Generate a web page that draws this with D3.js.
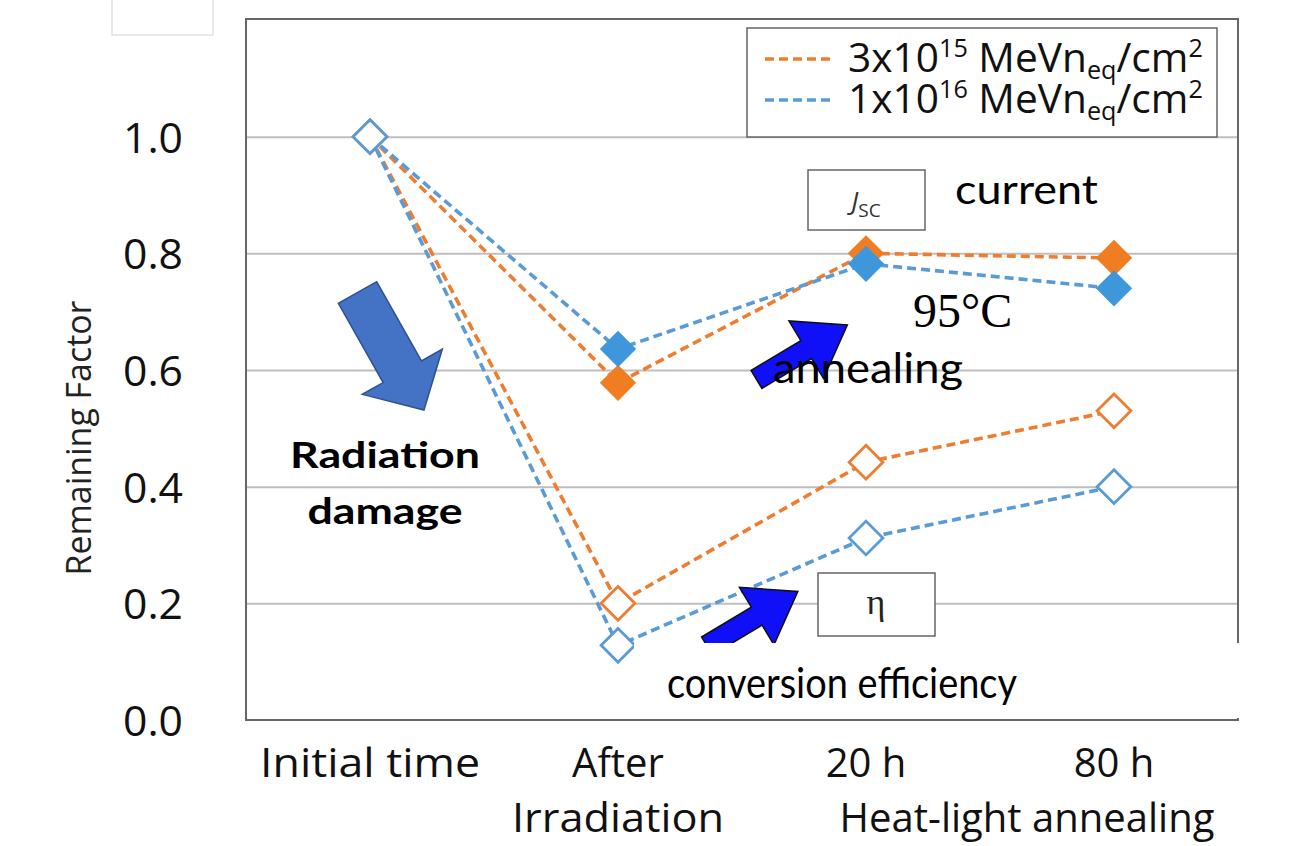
<!DOCTYPE html>
<html>
<head>
<meta charset="utf-8">
<script src="https://cdn.jsdelivr.net/npm/d3@7"></script>
<style>
  body { margin: 0; background: #fff; }
  svg { display: block; font-family: "Open Sans", sans-serif; }
</style>
</head>
<body>
<div id="chart"></div>
<script>
// categories on the x axis
const stages = ["Initial time", "After Irradiation", "20 h", "80 h"];
const stageTop = ["Initial time", "After", "20 h", "80 h"];

// remaining factor
const jscLow = [1.0, 0.578, 0.800, 0.792];   // 3x10^15, filled
const jscHigh = [1.0, 0.636, 0.782, 0.740];  // 1x10^16, filled
const effLow = [1.0, 0.200, 0.442, 0.530];   // 3x10^15, open
const effHigh = [1.0, 0.128, 0.312, 0.400];  // 1x10^16, open

const yTicks = [0, 0.2, 0.4, 0.6, 0.8, 1.0];
const fluences = ["15", "16"];
const fluencePrefix = ["3x10", "1x10"];

const orange = "#ED7D31", blue = "#5B9BD5";
const orangeFill = "#F07D22", blueFill = "#3E97DA";
const calibri = "Lato, sans-serif";

const svg = d3.select("#chart")
    .append("svg")
    .attr("width", 1291)
    .attr("height", 846);

const x = d3.scaleBand()
    .domain(stages)
    .range([246, 1238]);

const y = d3.scaleLinear()
    .domain([0, 1.2])
    .range([720, 20]);

const cx = d => x(d) + x.bandwidth() / 2;

// font size that makes a text as wide as in the picture
function fit(sel, w) {
    const len = sel.node().getComputedTextLength();
    const fs = parseFloat(sel.attr("font-size"));
    return fs * w / len;
}

// faint box top-left
svg.append("path")
    .attr("d", "M112,0 V35 H213 V0")
    .attr("fill", "none")
    .attr("stroke", "#e2e2e2")
    .attr("stroke-width", 1.5);

// gridlines
svg.append("g")
    .attr("transform", "translate(246,0)")
    .call(d3.axisLeft(y).tickValues(yTicks.slice(1)).tickSize(-992).tickFormat(""))
    .call(g => g.select(".domain").remove())
    .call(g => g.selectAll("line").attr("stroke", "#bfbfbf").attr("stroke-width", 2));

// y tick labels
const yAx = svg.append("g")
    .attr("transform", "translate(186,0)")
    .call(d3.axisLeft(y).tickValues(yTicks).tickSize(0).tickFormat(d3.format(".1f")))
    .call(g => g.select(".domain").remove());
yAx.selectAll("text")
    .attr("font-family", "Open Sans, sans-serif")
    .attr("font-size", 30)
    .attr("fill", "#111")
    .attr("dy", "0.36em");
const yfs = fit(yAx.select("text"), 60);
yAx.selectAll("text").attr("font-size", yfs);

// y title
const yTitle = svg.append("text")
    .attr("transform", "translate(91,438) rotate(-90)")
    .attr("text-anchor", "middle")
    .attr("font-size", 29)
    .attr("fill", "#222")
    .text("Remaining Factor");
yTitle.attr("font-size", fit(yTitle, 275));

// plot frame
svg.append("rect")
    .attr("x", 246).attr("y", 19)
    .attr("width", 992).attr("height", 701)
    .attr("fill", "none")
    .attr("stroke", "#666")
    .attr("stroke-width", 2);

function arrowPath(tx, ty, angle, shaftLen, shaftW, headW, headLen) {
    const a = angle * Math.PI / 180;
    const dx = Math.cos(a), dy = Math.sin(a);
    const px = -dy, py = dx;
    const pt = (s, t) => [tx + dx * s + px * t, ty + dy * s + py * t];
    return d3.line()([
        pt(0, -shaftW / 2), pt(shaftLen, -shaftW / 2), pt(shaftLen, -headW / 2),
        pt(shaftLen + headLen, 0),
        pt(shaftLen, headW / 2), pt(shaftLen, shaftW / 2), pt(0, shaftW / 2)
    ]) + "Z";
}

// Radiation damage arrow
svg.append("path")
    .attr("d", arrowPath(357.5, 292.5, 60.5, 91, 44, 92, 44))
    .attr("fill", "#4472C4")
    .attr("stroke", "#2F528F")
    .attr("stroke-width", 1.5);

// series
const series = [
    {values: jscLow, color: orange, fill: orangeFill, open: false},
    {values: jscHigh, color: blue, fill: blueFill, open: false},
    {values: effLow, color: orange, fill: orangeFill, open: true},
    {values: effHigh, color: blue, fill: blueFill, open: true}
];

const line = d3.line()
    .x((d, i) => cx(stages[i]))
    .y(d => y(d));

const diamond = d3.symbol().type(d3.symbolSquare).size(660);

series.forEach(s => {
    svg.append("path")
        .attr("d", line(s.values))
        .attr("fill", "none")
        .attr("stroke", s.color)
        .attr("stroke-width", 3.6)
        .attr("stroke-dasharray", "9,5");
});

series.forEach(s => {
    svg.append("g")
        .selectAll("path")
        .data(s.values)
        .enter()
        .append("path")
        .attr("d", diamond)
        .attr("fill", s.open ? "#fff" : s.fill)
        .attr("stroke", s.open ? s.color : "none")
        .attr("stroke-width", s.open ? 3 : 0)
        .attr("transform", (d, i) => {
            const k = s.open ? 0.93 : 1;
            return "translate(" + cx(stages[i]) + "," + y(d) + ") rotate(45) scale(" + k + ")";
        });
});

// annealing arrows
svg.append("path")
    .attr("d", arrowPath(756.5, 379.5, -31, 58, 21, 67, 48))
    .attr("fill", "#1010F8")
    .attr("stroke", "#111")
    .attr("stroke-width", 1.5);

svg.append("path")
    .attr("d", arrowPath(707, 646, -31, 58, 21, 67, 48))
    .attr("fill", "#1010F8")
    .attr("stroke", "#111")
    .attr("stroke-width", 1.5);

// white patch at the bottom
svg.append("rect")
    .attr("x", 634).attr("y", 643)
    .attr("width", 620).attr("height", 75)
    .attr("fill", "#fff");

// x labels
const xAx = svg.append("g")
    .attr("transform", "translate(0,720)")
    .call(d3.axisBottom(x).tickSize(0).tickFormat((d, i) => stageTop[i]))
    .call(g => g.select(".domain").remove());
xAx.selectAll("text")
    .attr("font-family", "Open Sans, sans-serif")
    .attr("font-size", 40)
    .attr("fill", "#111")
    .attr("dy", null)
    .attr("y", 57);
xAx.select("text")
    .attr("textLength", 220)
    .attr("lengthAdjust", "spacingAndGlyphs");

svg.append("text")
    .attr("x", cx(stages[1])).attr("y", 832)
    .attr("text-anchor", "middle")
    .attr("font-size", 40).attr("fill", "#111")
    .attr("textLength", 212).attr("lengthAdjust", "spacingAndGlyphs")
    .text("Irradiation");

svg.append("text")
    .attr("x", 1027).attr("y", 832)
    .attr("text-anchor", "middle")
    .attr("font-size", 40).attr("fill", "#111")
    .text("Heat-light annealing");

// frame bottom drawn again over white patch
svg.append("line")
    .attr("x1", 246).attr("x2", 1234)
    .attr("y1", 720).attr("y2", 720)
    .attr("stroke", "#666").attr("stroke-width", 2);

// legend
svg.append("rect")
    .attr("x", 747).attr("y", 28)
    .attr("width", 470).attr("height", 109)
    .attr("fill", "#fff")
    .attr("stroke", "#666")
    .attr("stroke-width", 1.5);

const legend = svg.selectAll(".legend")
    .data(fluences)
    .enter().append("g")
    .attr("class", "legend")
    .attr("transform", (d, i) => "translate(0," + (59 + i * 41) + ")");

legend.append("line")
    .attr("x1", 765).attr("x2", 834)
    .attr("stroke", (d, i) => i === 0 ? orange : blue)
    .attr("stroke-width", 3.6)
    .attr("stroke-dasharray", "9,5");

const lt = legend.append("text")
    .attr("x", 848)
    .attr("y", 13)
    .attr("font-size", 30)
    .attr("fill", "#111");
lt.append("tspan").text((d, i) => fluencePrefix[i]);
lt.append("tspan").attr("font-size", "0.62em").attr("dy", "-0.6em").text(d => d);
lt.append("tspan").attr("dy", "0.37em").text(" MeVn");
lt.append("tspan").attr("font-size", "0.62em").attr("dy", "0.3em").text("eq");
lt.append("tspan").attr("dy", "-0.19em").text("/cm");
lt.append("tspan").attr("font-size", "0.62em").attr("dy", "-0.6em").text("2");
lt.attr("font-size", fit(d3.select(lt.node()), 355));

// J_SC box
svg.append("rect")
    .attr("x", 808).attr("y", 170)
    .attr("width", 117).attr("height", 60)
    .attr("fill", "#fff")
    .attr("stroke", "#666")
    .attr("stroke-width", 1.5);
const jt = svg.append("text")
    .attr("x", 866).attr("y", 210)
    .attr("text-anchor", "middle")
    .attr("font-size", 26).attr("fill", "#333");
jt.append("tspan").attr("font-style", "italic").text("J");
jt.append("tspan").attr("font-size", 19).attr("dy", 7).text("SC");

// eta box
svg.append("rect")
    .attr("x", 818).attr("y", 573)
    .attr("width", 117).attr("height", 63)
    .attr("fill", "#fff")
    .attr("stroke", "#666")
    .attr("stroke-width", 1.5);
svg.append("text")
    .attr("x", 876).attr("y", 614)
    .attr("text-anchor", "middle")
    .attr("font-family", "Liberation Serif, serif")
    .attr("font-size", 36).attr("fill", "#222")
    .text("η");

// annotation texts, sized by height and stretched to the picture's width
function note(tx, ty, str, fs, w, bold, anchor) {
    return svg.append("text")
        .attr("x", tx).attr("y", ty)
        .attr("font-family", calibri)
        .attr("font-size", fs)
        .attr("font-weight", bold ? "bold" : null)
        .attr("text-anchor", anchor || "start")
        .attr("textLength", w)
        .attr("lengthAdjust", "spacingAndGlyphs")
        .attr("fill", "#000")
        .text(str);
}

note(955, 204, "current", 41, 143);
note(773, 383, "annealing", 43, 190);
note(667, 698, "conversion efficiency", 43, 350);
note(385, 468, "Radiation", 37, 190, true, "middle");
note(385, 524, "damage", 37, 155, true, "middle");

svg.append("text")
    .attr("x", 913).attr("y", 327)
    .attr("font-family", "Liberation Serif, serif")
    .attr("font-size", 48).attr("fill", "#000")
    .text("95°C");
</script>
</body>
</html>
